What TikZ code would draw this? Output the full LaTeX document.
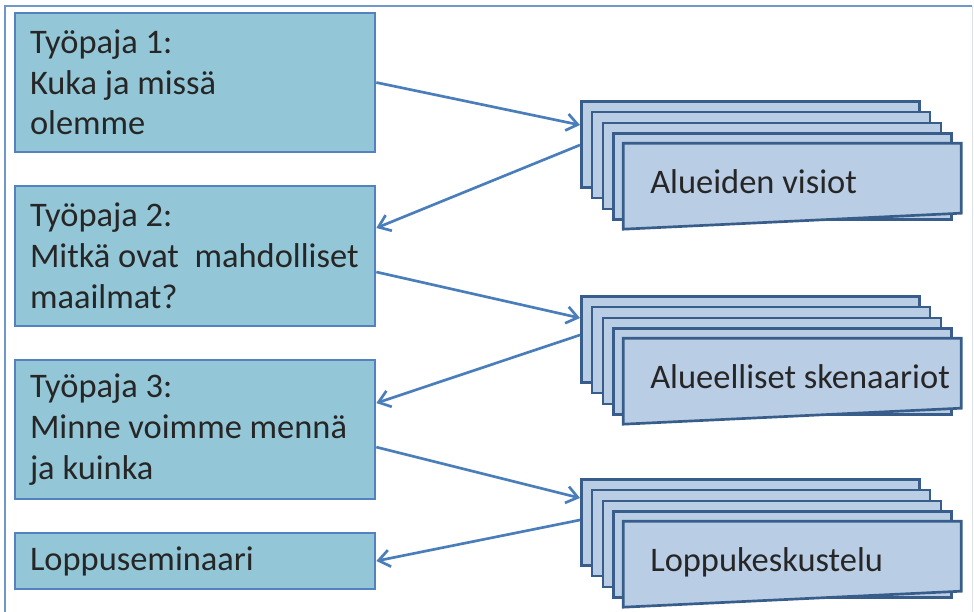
\documentclass[tikz,border=0pt]{standalone}
\usepackage{fontspec}
\setmainfont{Carlito}
\usepackage{xcolor}
\definecolor{tealbox}{RGB}{147, 198, 214}
\definecolor{boxline}{RGB}{ 84, 130, 192}
\definecolor{pagefill}{RGB}{185, 205, 229}
\definecolor{pageline}{RGB}{ 56,  93, 138}
\definecolor{arrowblue}{RGB}{ 74, 126, 187}
\definecolor{framegray}{RGB}{220, 224, 230}
\usepackage{tikz}
\usetikzlibrary{arrows.meta, positioning}
\tikzset{
  stepbox/.style={draw=boxline, fill=tealbox, line width=1.9pt,
    minimum width=9cm, text width=8.25cm, align=flush left,
    inner xsep=0.375cm, inner ysep=0pt,
    font=\fontsize{24.5}{29}\selectfont, text=black!85},
  pagebox/.style={draw=pageline, fill=pagefill, line width=1.9pt,
    minimum width=8.45cm, minimum height=2.15cm, inner sep=0pt},
  pagefront/.style={draw=pageline, fill=pagefill, line width=1.9pt},
  pagelabel/.style={font=\fontsize{24.5}{29}\selectfont, text=black!85,
    inner sep=0pt},
  flowarrow/.style={-{Straight Barb[length=2.8mm, width=4.2mm]},
    line width=1.9pt, color=arrowblue}
}

\begin{document}
\begin{tikzpicture}

  \useasboundingbox (0,0) rectangle (24.35,-15.3);

  %% frame
  \draw[arrowblue!80, line width=0.8pt] (0.125,-15.3) -- (0.125,-0.15) -- (24.3,-0.15);
  \draw[framegray, line width=0.6pt] (24.3,-0.15) -- (24.3,-15.3);

  %% Left column: workshops
  \node[stepbox, minimum height=3.475cm] (tp1) at (4.875,-2.0625)
    {Työpaja 1:\\Kuka ja missä\\olemme};
  \node[stepbox, minimum height=3.5cm] (tp2) at (4.875,-6.4)
    {Työpaja 2:\\\mbox{Mitkä ovat\ \ mahdolliset}\\maailmat?};
  \node[stepbox, minimum height=3.475cm] (tp3) at (4.875,-10.7375)
    {Työpaja 3:\\Minne voimme mennä\\ja kuinka};
  \node[stepbox, minimum height=1.4cm] (seminaari) at (4.875,-14.025)
    {Loppuseminaari};

  %% Right column: stacked pages
  \foreach \grp/\top/\txt in {visiot/-2.5/Alueiden visiot,
      skenaariot/-7.375/Alueelliset skenaariot,
      keskustelu/-11.95/Loppukeskustelu} {
    \foreach \i in {0,...,3}
      \node[pagebox, anchor=north west] (\grp\i)
        at (14.5+0.27*\i, \top-0.27*\i) {};
    \draw[pagefront] (15.58,\top-1.08) -- ++(8.45,0) -- ++(0,-1.75)
      -- ++(-8.45,-0.4) -- cycle;
    \node[pagelabel, anchor=base west] (\grp) at (16.25,\top-2.33) {\txt};
  }

  %% Arrows
  \draw[flowarrow] (tp1.east) -- ([yshift=-0.625cm]visiot0.north west);
  \draw[flowarrow] ([yshift=-1.125cm]visiot0.north west) -- ([yshift=0.7cm]tp2.east);
  \draw[flowarrow] ([yshift=-0.4cm]tp2.east) -- ([yshift=-0.575cm]skenaariot0.north west);
  \draw[flowarrow] ([yshift=-1.0cm]skenaariot0.north west) -- ([yshift=0.66cm]tp3.east);
  \draw[flowarrow] ([yshift=-0.44cm]tp3.east) -- ([yshift=-0.5cm]keskustelu0.north west);
  \draw[flowarrow] ([yshift=-1.05cm]keskustelu0.north west) -- (seminaari.east);

\end{tikzpicture}
\end{document}
